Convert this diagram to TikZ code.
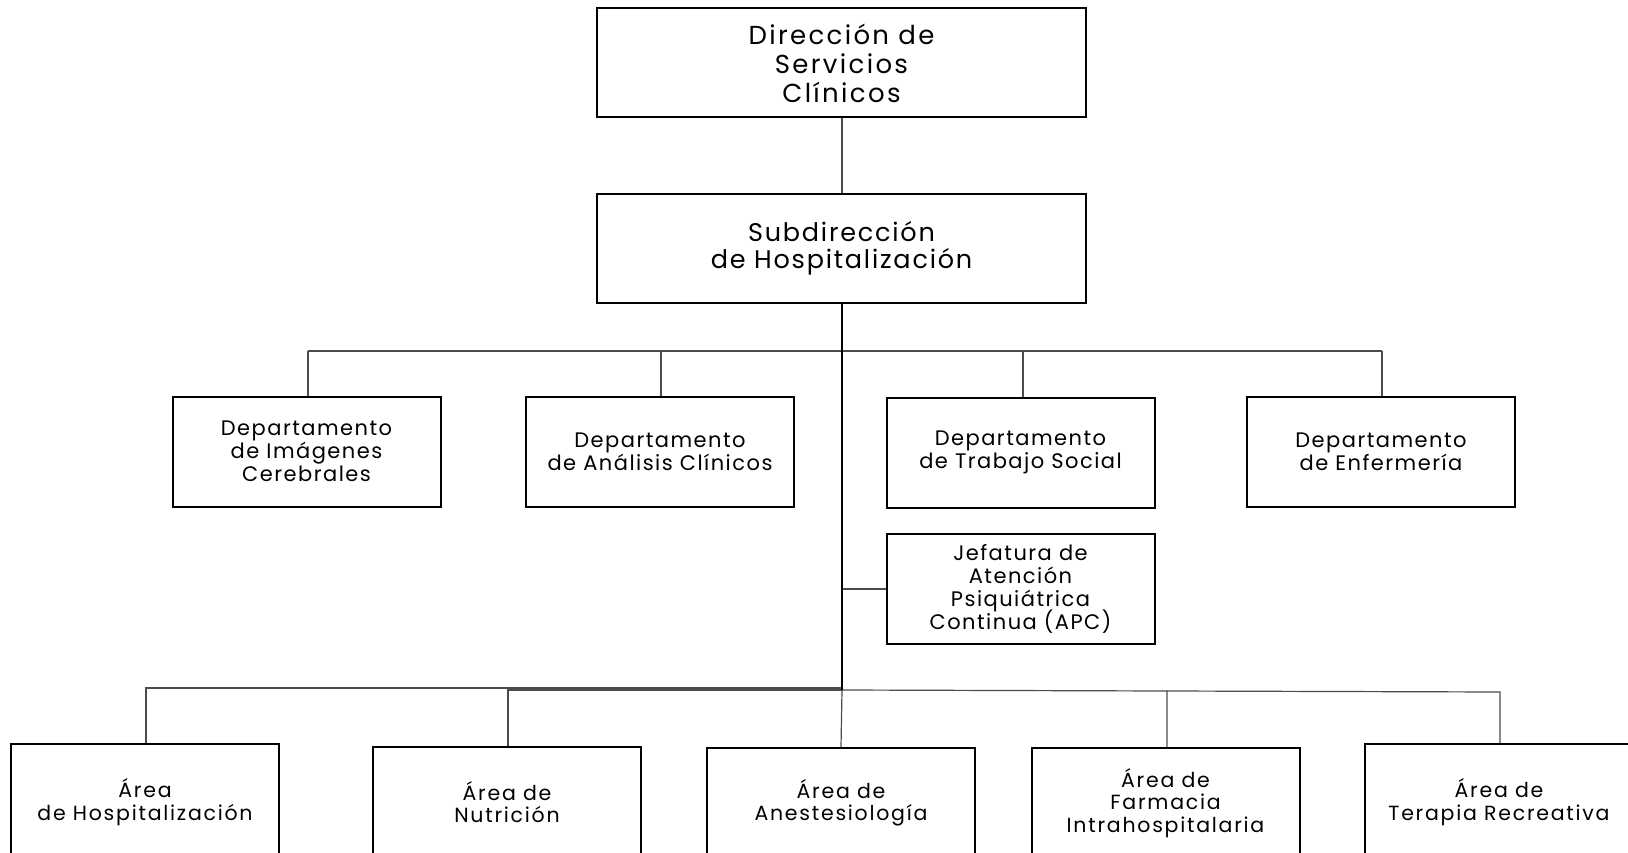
\documentclass[tikz,border=0pt]{standalone}
\usepackage{fontspec}
\setmainfont{Poppins}
\newfontfamily\topfont[LetterSpace=9]{Poppins}
\newfontfamily\subfont[LetterSpace=7]{Poppins}
\newfontfamily\deptfont[LetterSpace=7]{Poppins}
\newfontfamily\areafont[LetterSpace=8.5]{Poppins}
\begin{document}
\lineskiplimit=-\maxdimen
\begin{tikzpicture}[x=1pt,y=-1pt,
  box/.style={draw=black,line width=2pt,fill=white,inner sep=0pt,align=center,anchor=center},
  bigbox/.style={box,minimum width=489pt,minimum height=109pt},
  topbox/.style={bigbox,font=\topfont\fontsize{26}{29}\selectfont},
  subbox/.style={bigbox,font=\subfont\fontsize{25.5}{27}\selectfont},
  deptbox/.style={box,minimum width=268pt,minimum height=110pt,font=\deptfont\fontsize{21}{23}\selectfont},
  areabox/.style={box,minimum width=268pt,minimum height=110pt,font=\areafont\fontsize{20.5}{22.5}\selectfont},
  conn/.style={draw=black!70,line width=1.2pt},
  trunk/.style={draw=black,line width=2.4pt}]
\useasboundingbox (0,0) rectangle (1628,853);
\clip (0,0) rectangle (1628,853);
\fill[white] (0,0) rectangle (1628,853);

% nodes
\node[topbox] (top) at (841.5,63) {Dirección de\\Servicios\\Clínicos};
\node[subbox] (sub) at (841.5,248.5) {Subdirección\\de Hospitalización};

\node[deptbox] (d1) at (306.5,451.5) {Departamento\\de Imágenes\\Cerebrales};
\node[deptbox] (d2) at (660,451.5) {Departamento\\de Análisis Clínicos};
\node[deptbox] (d3) at (1020.5,452.5) {Departamento\\de Trabajo Social};
\node[deptbox] (d4) at (1381,451.5) {Departamento\\de Enfermería};
\node[deptbox] (jef) at (1020.5,589) {Jefatura de\\Atención\\Psiquiátrica\\Continua (APC)};

\node[areabox,minimum height=116pt] (a1) at (145,802) {Área\\de Hospitalización};
\node[areabox] (a2) at (507,802) {Área de\\Nutrición};
\node[areabox] (a3) at (841,803) {Área de\\Anestesiología};
\node[areabox] (a4) at (1165.5,803) {Área de\\Farmacia\\Intrahospitalaria};
\node[areabox,minimum height=116pt] (a5) at (1499,802) {Área de\\Terapia Recreativa};

% coordinates
\coordinate (tk) at (842,690);
\coordinate (h1) at (308,351);
\coordinate (h4) at (1382,351);

% connectors
\draw[conn] (top.south -| 842,0) -- (sub.north -| 842,0);
\draw[conn] (h1) -- (h4);
\draw[conn] (h1) -- (h1 |- d1.north);
\draw[conn] (d2.north -| 661,0) -- (661,351);
\draw[conn] (d3.north -| 1023,0) -- (1023,351);
\draw[conn] (h4) -- (h4 |- d4.north);
\draw[conn] (842,589) -- (jef.west);

\draw[conn] (a1.north -| 146,0) -- (146,688) -- (842,688);
\draw[conn] (a2.north -| 508,0) -- (508,690) -- (842,690);
\draw[conn] (842,690) -- (1167,691);
\draw[conn] (a3.north) -- (842,690);
\draw[conn] (a4.north -| 1167,0) -- (1167,691) -- (1500,692) -- (a5.north -| 1500,0);

\draw[trunk] (sub.south -| 842,0) -- (tk);
\end{tikzpicture}
\end{document}
